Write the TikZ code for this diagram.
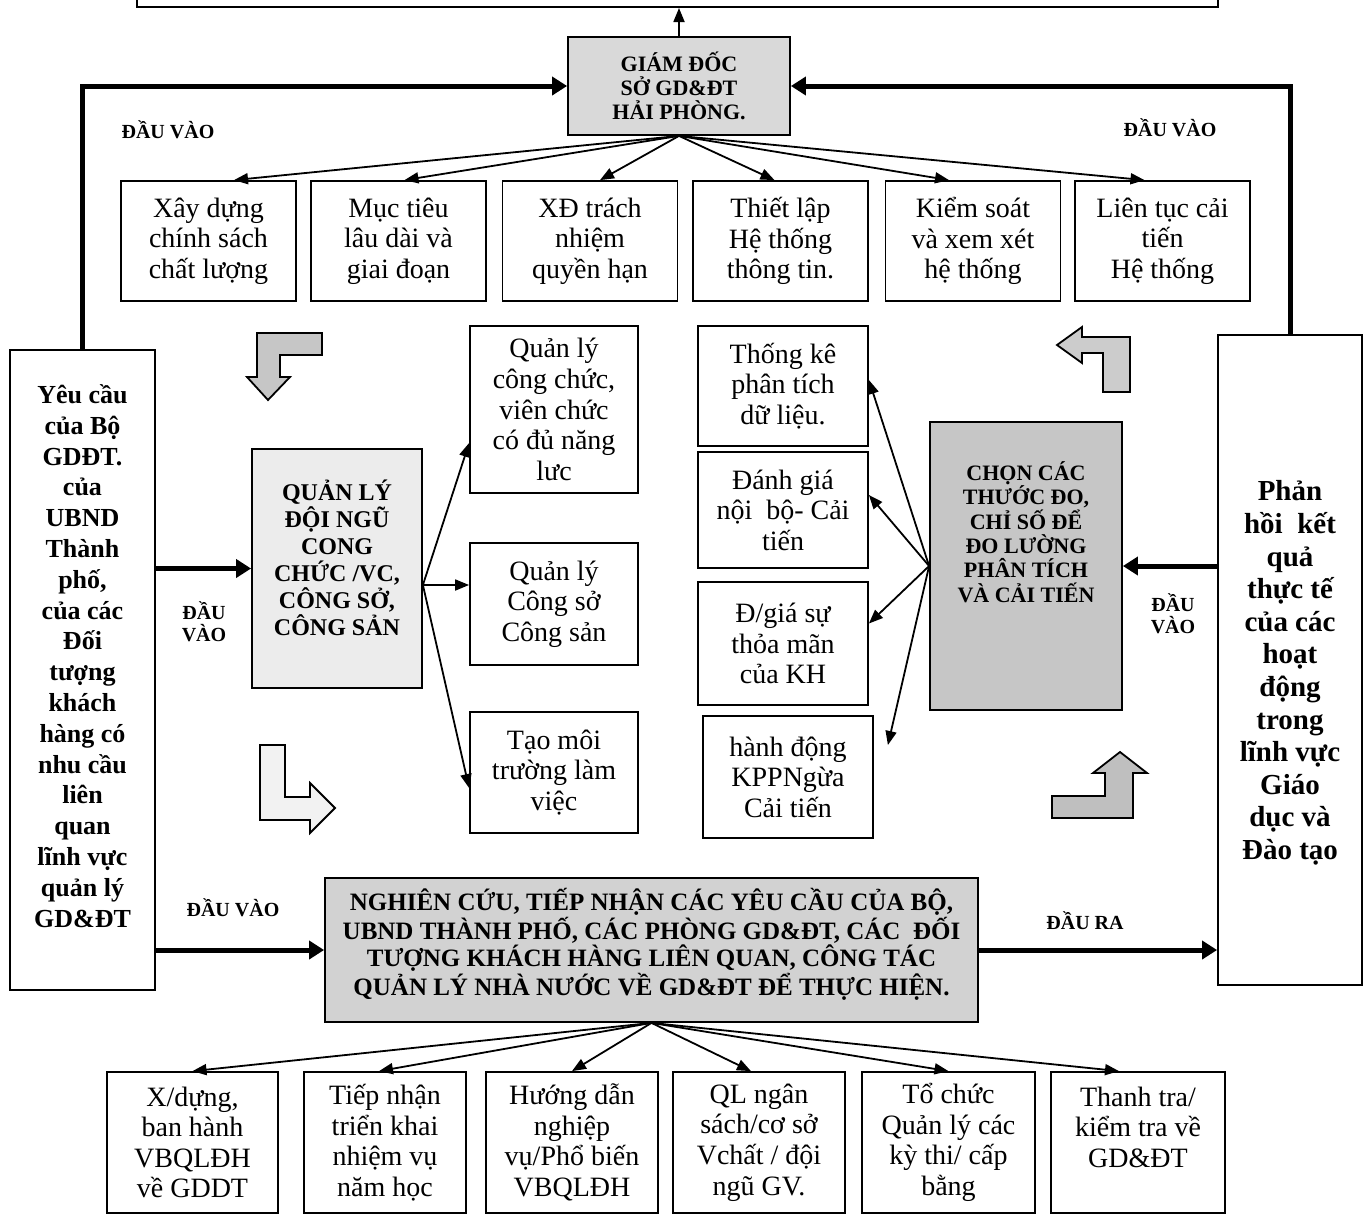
\documentclass[tikz,border=0pt]{standalone}
\usepackage{fontspec}
\setmainfont{Liberation Serif}
\usetikzlibrary{arrows.meta,calc}
\begin{document}
\begin{tikzpicture}[x=0.5pt,y=-0.5pt,
  bx/.style={draw, line width=0.9pt, align=center, inner sep=0pt, font=\fontsize{14}{15.3}\selectfont},
  txt/.style={align=center, inner sep=0pt},
  lbl/.style={align=center, inner sep=0pt, font=\bfseries\fontsize{10}{11}\selectfont},
  thinarr/.style={line width=0.9pt, -{Triangle[length=7pt,width=5.5pt]}},
  fatarr/.style={line width=2.5pt, -{Triangle[length=7.5pt,width=9pt]}},
  blk/.style={draw, line width=0.9pt, line join=miter}
]
\useasboundingbox (0,0) rectangle (1371,1216);
\clip (0,0) rectangle (1371,1216);

% top bar (cut by the page edge)
\node[bx, minimum width=540.5pt, minimum height=20pt, anchor=south] (top) at (677.5,8) {};

% director
\node[bx, fill=gray!30, minimum width=111pt, minimum height=49pt, font=\bfseries\fontsize{11}{12}\selectfont] (gd) at (679,86) {GIÁM ĐỐC\\SỞ GD\&ĐT\\HẢI PHÒNG.};

% top row
\node[bx, minimum width=87.5pt, minimum height=60pt] (b1) at (208.5,241) {Xây dựng\\chính sách\\chất lượng};
\node[bx, minimum width=87.5pt, minimum height=60pt] (b2) at (398.5,241) {Mục tiêu\\lâu dài và\\giai đoạn};
\node[bx, minimum width=87.5pt, minimum height=60pt] (b3) at (590,241) {XĐ trách\\nhiệm\\quyền hạn};
\node[bx, minimum width=87.5pt, minimum height=60pt] (b4) at (780.5,241) {Thiết lập\\Hệ thống\\thông tin.};
\node[bx, minimum width=87.5pt, minimum height=60pt] (b5) at (973,241) {Kiểm soát\\và xem xét\\hệ thống};
\node[bx, minimum width=87.5pt, minimum height=60pt] (b6) at (1162.5,241) {Liên tục cải\\tiến\\Hệ thống};

% left and right big boxes
\node[bx, minimum width=72.5pt, minimum height=320pt] (lb) at (82.5,670) {};
\node[txt, font=\bfseries\fontsize{13}{15.4}\selectfont] (lbt) at (82.5,656) {Yêu cầu\\của Bộ\\GDĐT.\\của\\UBND\\Thành\\phố,\\của các\\Đối\\tượng\\khách\\hàng có\\nhu cầu\\liên\\quan\\lĩnh vực\\quản lý\\GD\&ĐT};
\node[bx, minimum width=72pt, minimum height=325pt] (rb) at (1290,660) {};
\node[txt, font=\bfseries\fontsize{14.5}{16.3}\selectfont] (rbt) at (1290,673) {Phản\\hồi~ kết\\quả\\thực tế\\của các\\hoạt\\động\\trong\\lĩnh vực\\Giáo\\dục và\\Đào tạo};

% management box
\node[bx, fill=gray!15, minimum width=85pt, minimum height=119.5pt] (ql) at (337,568.5) {};
\node[txt, font=\bfseries\fontsize{12}{13.5}\selectfont] (qlt) at (337,558) {QUẢN LÝ\\ĐỘI NGŨ\\CONG\\CHỨC /VC,\\CÔNG SỞ,\\CÔNG SẢN};

% middle column
\node[bx, minimum width=84pt, minimum height=83.5pt] (m1) at (554,409.5) {Quản lý\\công chức,\\viên chức\\có đủ năng\\lưc};
\node[bx, minimum width=84pt, minimum height=61pt] (m2) at (554,604) {Quản lý\\Công sở\\Công sản};
\node[bx, minimum width=84pt, minimum height=60.5pt] (m3) at (554,772.5) {Tạo môi\\trường làm\\việc};

% right-middle column
\node[bx, minimum width=85pt, minimum height=60pt] (r1) at (783,386) {Thống kê\\phân tích\\dữ liệu.};
\node[bx, minimum width=85pt, minimum height=58pt] (r2) at (783,510) {Đánh giá\\nội~ bộ- Cải\\tiến};
\node[bx, minimum width=85pt, minimum height=61.5pt] (r3) at (783,643.5) {Đ/giá sự\\thỏa mãn\\của KH};
\node[bx, minimum width=85pt, minimum height=61pt] (r4) at (788,777) {hành động\\KPPNgừa\\Cải tiến};

% measure box
\node[bx, fill=gray!45, minimum width=96pt, minimum height=144pt] (chon) at (1026,566) {};
\node[txt, font=\bfseries\fontsize{11}{12.2}\selectfont] (chont) at (1026,532) {CHỌN CÁC\\THƯỚC ĐO,\\CHỈ SỐ ĐỂ\\ĐO LƯỜNG\\PHÂN TÍCH\\VÀ CẢI TIẾN};

% research box
\node[bx, fill=gray!35, minimum width=326.5pt, minimum height=72pt] (ng) at (651.5,950) {};
\node[txt, font=\bfseries\fontsize{12.5}{13.5}\selectfont] (ngt) at (651.5,944) {NGHIÊN CỨU, TIẾP NHẬN CÁC YÊU CẦU CỦA BỘ,\\UBND THÀNH PHỐ, CÁC PHÒNG GD\&ĐT, CÁC~ ĐỐI\\TƯỢNG KHÁCH HÀNG LIÊN QUAN, CÔNG TÁC\\QUẢN LÝ NHÀ NƯỚC VỀ GD\&ĐT ĐỂ THỰC HIỆN.};

% bottom row
\node[bx, minimum width=85.5pt, minimum height=70.5pt] (c1) at (192.5,1142.5) {X/dựng,\\ban hành\\VBQLĐH\\về GDDT};
\node[bx, minimum width=81pt, minimum height=70.5pt] (c2) at (385,1142.5) {Tiếp nhận\\triển khai\\nhiệm vụ\\năm học};
\node[bx, minimum width=86pt, minimum height=70.5pt] (c3) at (572,1142.5) {Hướng dẫn\\nghiệp\\vụ/Phổ biến\\VBQLĐH};
\node[bx, minimum width=86pt, minimum height=70.5pt] (c4) at (759,1142.5) {QL ngân\\sách/cơ sở\\Vchất / đội\\ngũ GV.};
\node[bx, minimum width=86.5pt, minimum height=70.5pt] (c5) at (948.5,1142.5) {Tổ chức\\Quản lý các\\kỳ thi/ cấp\\bằng};
\node[bx, minimum width=87pt, minimum height=70.5pt] (c6) at (1138,1142.5) {Thanh tra/\\kiểm tra về\\GD\&ĐT\\\mbox{}};

% labels
\node[lbl] (l1) at (168,130) {ĐẦU VÀO};
\node[lbl] (l2) at (1170,128) {ĐẦU VÀO};
\node[lbl] (l3) at (204,622) {ĐẦU\\VÀO};
\node[lbl] (l4) at (1173,614) {ĐẦU\\VÀO};
\node[lbl] (l5) at (233,908) {ĐẦU VÀO};
\node[lbl] (l6) at (1085,921) {ĐẦU RA};

% block arrows
\draw[blk, fill=gray!45] (257,333) -- (322,333) -- (322,355) -- (280,355) -- (280,377) -- (290,377) -- (268,400) -- (247,377) -- (257,377) -- cycle;
\draw[blk, fill=gray!10] (260,745) -- (285,745) -- (285,797) -- (310,797) -- (310,783) -- (335,808) -- (310,833) -- (310,820) -- (260,820) -- cycle;
\draw[blk, fill=gray!40] (1130,337) -- (1130,392) -- (1103,392) -- (1103,353) -- (1082,353) -- (1082,363) -- (1057,345) -- (1082,327) -- (1082,337) -- cycle;
\draw[blk, fill=gray!50] (1052,796) -- (1105,796) -- (1105,773) -- (1093,773) -- (1120,752) -- (1147,773) -- (1133,773) -- (1133,818) -- (1052,818) -- cycle;

% main connectors
\draw[thinarr] (gd.north) -- (gd.north |- top.south);
\draw[fatarr] (lb.north) |- (gd.west);
\draw[fatarr] (rb.north) |- (gd.east);
\draw[thinarr] (gd.south) -- ([xshift=12.75pt]b1.north);
\draw[thinarr] (gd.south) -- ([xshift=3pt]b2.north);
\draw[thinarr] (gd.south) -- ([xshift=5pt]b3.north);
\draw[thinarr] (gd.south) -- ([xshift=-3pt]b4.north);
\draw[thinarr] (gd.south) -- ([xshift=-12pt]b5.north);
\draw[thinarr] (gd.south) -- ([xshift=-9pt]b6.north);
\draw[fatarr] (lb.east |- ql.west) -- (ql.west);
\draw[fatarr] (lb.east |- ng.west) -- (ng.west);
\draw[fatarr] (ng.east) -- (ng.east -| rb.west);
\draw[fatarr] (rb.west |- chon.east) -- (chon.east);

% management branches
\coordinate (qlo) at ([yshift=-8.25pt]ql.east);
\draw[thinarr] (qlo) -- ([yshift=-16.75pt]m1.west);
\draw[thinarr] (qlo) -- ([yshift=9.5pt]m2.west);
\draw[thinarr] (qlo) -- ([yshift=-7.75pt]m3.west);

% measurement branches
\draw[thinarr] (chon.west) -- ([yshift=3pt]r1.east);
\draw[thinarr] (chon.west) -- ([yshift=7.5pt]r2.east);
\draw[thinarr] (chon.west) -- ([yshift=10pt]r3.east);
\draw[thinarr] (chon.west) -- ([xshift=7pt,yshift=16pt]r4.east);

% bottom branches
\draw[thinarr] (ng.south) -- (c1.north);
\draw[thinarr] (ng.south) -- ([xshift=-3pt]c2.north);
\draw[thinarr] (ng.south) -- (c3.north);
\draw[thinarr] (ng.south) -- ([xshift=-4pt]c4.north);
\draw[thinarr] (ng.south) -- (c5.north);
\draw[thinarr] (ng.south) -- ([xshift=-9.5pt]c6.north);
\end{tikzpicture}
\end{document}
